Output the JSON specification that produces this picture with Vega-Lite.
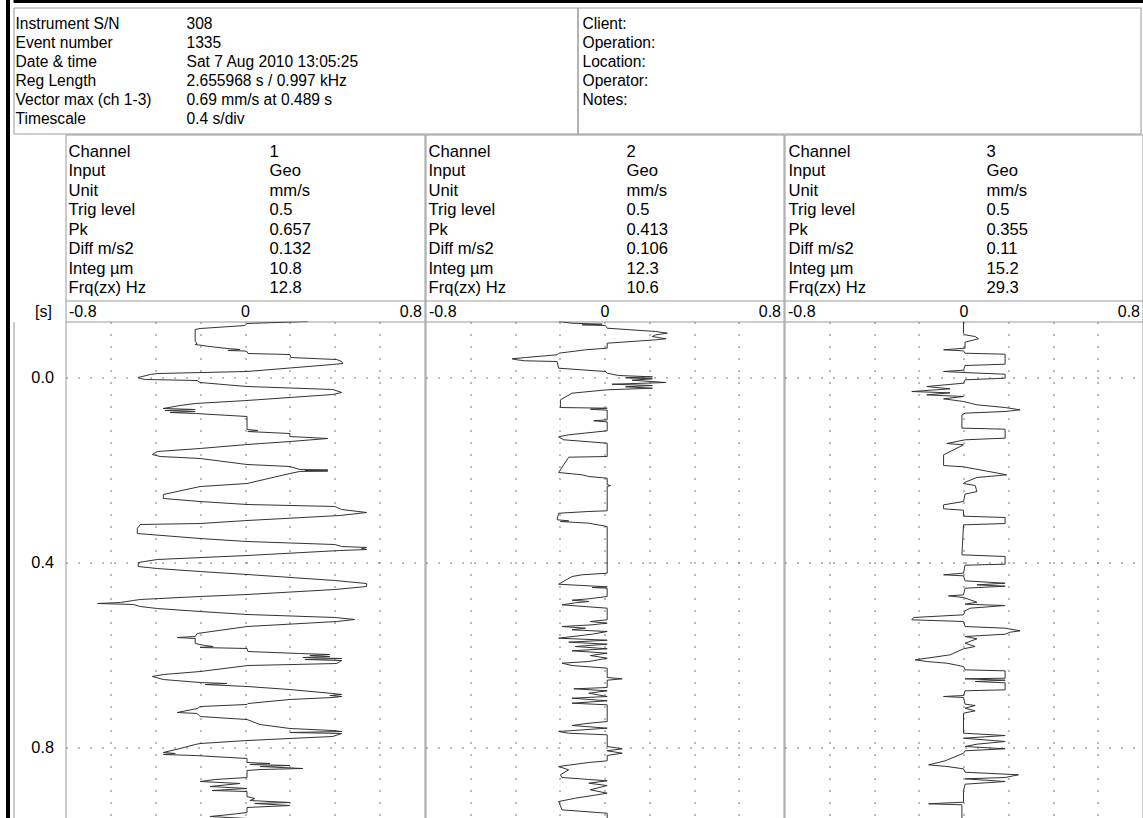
{
"$schema": "https://vega.github.io/schema/vega-lite/v6.json",
"background": "white",
"padding": {"left": 6, "top": 0, "right": 0, "bottom": 0},
"config": {
 "view": {"stroke": "#999", "strokeWidth": 1},
 "axis": {"labelFont": "Liberation Sans", "titleFont": "Liberation Sans", "labelColor": "#000", "titleColor": "#000", "labelFontSize": 16, "titleFontSize": 16, "titleFontWeight": "normal"},
 "text": {"font": "Liberation Sans", "fontSize": 16, "color": "#000"}
},
"datasets": {
 "hdr": [
  {"side":"L","row":0,"col":"k","text":"Instrument S/N"},{"side":"L","row":0,"col":"v","text":"308"},
  {"side":"L","row":1,"col":"k","text":"Event number"},{"side":"L","row":1,"col":"v","text":"1335"},
  {"side":"L","row":2,"col":"k","text":"Date & time"},{"side":"L","row":2,"col":"v","text":"Sat 7 Aug 2010 13:05:25"},
  {"side":"L","row":3,"col":"k","text":"Reg Length"},{"side":"L","row":3,"col":"v","text":"2.655968 s / 0.997 kHz"},
  {"side":"L","row":4,"col":"k","text":"Vector max (ch 1-3)"},{"side":"L","row":4,"col":"v","text":"0.69 mm/s at 0.489 s"},
  {"side":"L","row":5,"col":"k","text":"Timescale"},{"side":"L","row":5,"col":"v","text":"0.4 s/div"},
  {"side":"R","row":0,"col":"k","text":"Client:"},
  {"side":"R","row":1,"col":"k","text":"Operation:"},
  {"side":"R","row":2,"col":"k","text":"Location:"},
  {"side":"R","row":3,"col":"k","text":"Operator:"},
  {"side":"R","row":4,"col":"k","text":"Notes:"}
 ],
 "info": [
  {"ch":1,"row":0,"col":"k","text":"Channel"},{"ch":1,"row":0,"col":"v","text":"1"},
  {"ch":1,"row":1,"col":"k","text":"Input"},{"ch":1,"row":1,"col":"v","text":"Geo"},
  {"ch":1,"row":2,"col":"k","text":"Unit"},{"ch":1,"row":2,"col":"v","text":"mm/s"},
  {"ch":1,"row":3,"col":"k","text":"Trig level"},{"ch":1,"row":3,"col":"v","text":"0.5"},
  {"ch":1,"row":4,"col":"k","text":"Pk"},{"ch":1,"row":4,"col":"v","text":"0.657"},
  {"ch":1,"row":5,"col":"k","text":"Diff m/s2"},{"ch":1,"row":5,"col":"v","text":"0.132"},
  {"ch":1,"row":6,"col":"k","text":"Integ µm"},{"ch":1,"row":6,"col":"v","text":"10.8"},
  {"ch":1,"row":7,"col":"k","text":"Frq(zx) Hz"},{"ch":1,"row":7,"col":"v","text":"12.8"},
  {"ch":2,"row":0,"col":"k","text":"Channel"},{"ch":2,"row":0,"col":"v","text":"2"},
  {"ch":2,"row":1,"col":"k","text":"Input"},{"ch":2,"row":1,"col":"v","text":"Geo"},
  {"ch":2,"row":2,"col":"k","text":"Unit"},{"ch":2,"row":2,"col":"v","text":"mm/s"},
  {"ch":2,"row":3,"col":"k","text":"Trig level"},{"ch":2,"row":3,"col":"v","text":"0.5"},
  {"ch":2,"row":4,"col":"k","text":"Pk"},{"ch":2,"row":4,"col":"v","text":"0.413"},
  {"ch":2,"row":5,"col":"k","text":"Diff m/s2"},{"ch":2,"row":5,"col":"v","text":"0.106"},
  {"ch":2,"row":6,"col":"k","text":"Integ µm"},{"ch":2,"row":6,"col":"v","text":"12.3"},
  {"ch":2,"row":7,"col":"k","text":"Frq(zx) Hz"},{"ch":2,"row":7,"col":"v","text":"10.6"},
  {"ch":3,"row":0,"col":"k","text":"Channel"},{"ch":3,"row":0,"col":"v","text":"3"},
  {"ch":3,"row":1,"col":"k","text":"Input"},{"ch":3,"row":1,"col":"v","text":"Geo"},
  {"ch":3,"row":2,"col":"k","text":"Unit"},{"ch":3,"row":2,"col":"v","text":"mm/s"},
  {"ch":3,"row":3,"col":"k","text":"Trig level"},{"ch":3,"row":3,"col":"v","text":"0.5"},
  {"ch":3,"row":4,"col":"k","text":"Pk"},{"ch":3,"row":4,"col":"v","text":"0.355"},
  {"ch":3,"row":5,"col":"k","text":"Diff m/s2"},{"ch":3,"row":5,"col":"v","text":"0.11"},
  {"ch":3,"row":6,"col":"k","text":"Integ µm"},{"ch":3,"row":6,"col":"v","text":"15.2"},
  {"ch":3,"row":7,"col":"k","text":"Frq(zx) Hz"},{"ch":3,"row":7,"col":"v","text":"29.3"}
 ],
 "ch1": [
  {"t":-0.1211,"v":0.28},{"t":-0.1168,"v":0.009},{"t":-0.1124,"v":0},{"t":-0.1059,"v":-0.2},{"t":-0.1038,"v":-0.222},
  {"t":-0.0778,"v":-0.222},{"t":-0.0735,"v":-0.213},{"t":-0.0714,"v":-0.222},{"t":-0.067,"v":-0.156},{"t":-0.0627,"v":-0.08},
  {"t":-0.0605,"v":-0.022},{"t":-0.0584,"v":-0.076},{"t":-0.0573,"v":0},{"t":-0.0562,"v":0.009},{"t":-0.0519,"v":0.013},
  {"t":-0.0497,"v":0.2},{"t":-0.0432,"v":0.204},{"t":-0.0389,"v":0.409},{"t":-0.0346,"v":0.431},{"t":-0.0303,"v":0.436},
  {"t":-0.0281,"v":0.391},{"t":-0.013,"v":0.009},{"t":-0.0086,"v":-0.391},{"t":-0.0065,"v":-0.422},{"t":0,"v":-0.476},
  {"t":0.0022,"v":-0.467},{"t":0.0043,"v":-0.444},{"t":0.0065,"v":-0.213},{"t":0.0108,"v":-0.2},{"t":0.0195,"v":0.009},
  {"t":0.0259,"v":0.391},{"t":0.0324,"v":0.431},{"t":0.0368,"v":0.391},{"t":0.0497,"v":0.009},{"t":0.0562,"v":-0.222},
  {"t":0.0605,"v":-0.289},{"t":0.067,"v":-0.364},{"t":0.0692,"v":-0.222},{"t":0.0714,"v":-0.356},{"t":0.0735,"v":-0.222},
  {"t":0.0757,"v":-0.333},{"t":0.0778,"v":-0.222},{"t":0.0843,"v":0.009},{"t":0.1124,"v":0.009},{"t":0.1146,"v":0.058},
  {"t":0.1168,"v":0.013},{"t":0.1211,"v":0.2},{"t":0.1276,"v":0.2},{"t":0.1319,"v":0.369},{"t":0.1384,"v":0.2},
  {"t":0.1449,"v":0.009},{"t":0.1535,"v":-0.2},{"t":0.16,"v":-0.391},{"t":0.1665,"v":-0.413},{"t":0.1708,"v":-0.378},
  {"t":0.1751,"v":-0.2},{"t":0.1881,"v":0.009},{"t":0.1924,"v":0.2},{"t":0.1989,"v":0.244},{"t":0.2,"v":0.369},
  {"t":0.2011,"v":0.267},{"t":0.2022,"v":0.369},{"t":0.2032,"v":0.244},{"t":0.2076,"v":0.2},{"t":0.2292,"v":0.009},
  {"t":0.2357,"v":-0.2},{"t":0.253,"v":-0.364},{"t":0.2616,"v":-0.364},{"t":0.2681,"v":-0.2},{"t":0.2746,"v":0.009},
  {"t":0.2789,"v":0.4},{"t":0.2854,"v":0.431},{"t":0.2919,"v":0.542},{"t":0.2984,"v":0.422},{"t":0.3092,"v":0.009},
  {"t":0.3157,"v":-0.2},{"t":0.3178,"v":-0.467},{"t":0.3265,"v":-0.48},{"t":0.3373,"v":-0.48},{"t":0.3481,"v":-0.2},
  {"t":0.3546,"v":0.009},{"t":0.3611,"v":0.4},{"t":0.3654,"v":0.431},{"t":0.3676,"v":0.542},{"t":0.3697,"v":0.52},
  {"t":0.3719,"v":0.542},{"t":0.3741,"v":0.422},{"t":0.3849,"v":0.009},{"t":0.3935,"v":-0.391},{"t":0.4,"v":-0.476},
  {"t":0.4086,"v":-0.476},{"t":0.413,"v":-0.391},{"t":0.4195,"v":-0.2},{"t":0.4259,"v":0.009},{"t":0.4389,"v":0.4},
  {"t":0.4454,"v":0.542},{"t":0.4519,"v":0.542},{"t":0.4584,"v":0.4},{"t":0.4692,"v":0.009},{"t":0.4735,"v":-0.2},
  {"t":0.48,"v":-0.467},{"t":0.4822,"v":-0.498},{"t":0.4865,"v":-0.556},{"t":0.4886,"v":-0.657},{"t":0.4908,"v":-0.498},
  {"t":0.4951,"v":-0.467},{"t":0.4995,"v":-0.391},{"t":0.5059,"v":-0.2},{"t":0.5124,"v":0.009},{"t":0.5189,"v":0.4},
  {"t":0.5232,"v":0.489},{"t":0.5276,"v":0.409},{"t":0.5384,"v":0.009},{"t":0.5535,"v":-0.213},{"t":0.56,"v":-0.222},
  {"t":0.5622,"v":-0.302},{"t":0.5643,"v":-0.222},{"t":0.5751,"v":-0.222},{"t":0.5795,"v":-0.178},{"t":0.5816,"v":-0.142},
  {"t":0.5838,"v":-0.2},{"t":0.5859,"v":0.009},{"t":0.5924,"v":0.013},{"t":0.5968,"v":0.244},{"t":0.5989,"v":0.378},
  {"t":0.6011,"v":0.289},{"t":0.6032,"v":0.378},{"t":0.6054,"v":0.258},{"t":0.6076,"v":0.431},{"t":0.6097,"v":0.267},
  {"t":0.6119,"v":0.431},{"t":0.6184,"v":0.409},{"t":0.6227,"v":0.013},{"t":0.6357,"v":-0.2},{"t":0.6422,"v":-0.364},
  {"t":0.6465,"v":-0.413},{"t":0.653,"v":-0.364},{"t":0.6595,"v":-0.2},{"t":0.6616,"v":-0.08},{"t":0.6638,"v":-0.178},
  {"t":0.6681,"v":0.009},{"t":0.6746,"v":0.2},{"t":0.6832,"v":0.391},{"t":0.6854,"v":0.431},{"t":0.6876,"v":0.378},
  {"t":0.6897,"v":0.431},{"t":0.6919,"v":0.391},{"t":0.6962,"v":0.2},{"t":0.7049,"v":0.013},{"t":0.707,"v":0.009},
  {"t":0.7114,"v":-0.2},{"t":0.7157,"v":-0.213},{"t":0.7243,"v":-0.302},{"t":0.7265,"v":-0.213},{"t":0.733,"v":-0.2},
  {"t":0.7395,"v":0.009},{"t":0.7503,"v":0.067},{"t":0.7589,"v":0.2},{"t":0.7632,"v":0.391},{"t":0.7654,"v":0.431},
  {"t":0.7676,"v":0.2},{"t":0.7697,"v":0.431},{"t":0.7762,"v":0.391},{"t":0.7805,"v":0.2},{"t":0.7849,"v":0.009},
  {"t":0.7914,"v":-0.2},{"t":0.7935,"v":-0.222},{"t":0.8022,"v":-0.289},{"t":0.8108,"v":-0.364},{"t":0.813,"v":-0.311},
  {"t":0.8151,"v":-0.364},{"t":0.8173,"v":-0.222},{"t":0.8238,"v":0.009},{"t":0.8324,"v":0.009},{"t":0.8346,"v":0.111},
  {"t":0.8368,"v":0.022},{"t":0.8389,"v":0.2},{"t":0.8411,"v":0.067},{"t":0.8454,"v":0.258},{"t":0.8476,"v":0.067},
  {"t":0.8497,"v":0.009},{"t":0.8649,"v":0.009},{"t":0.8692,"v":-0.133},{"t":0.8735,"v":-0.2},{"t":0.8778,"v":-0.022},
  {"t":0.8843,"v":-0.156},{"t":0.8886,"v":0.009},{"t":0.893,"v":-0.147},{"t":0.8951,"v":0.009},{"t":0.9059,"v":0.009},
  {"t":0.9103,"v":0.044},{"t":0.9146,"v":0.022},{"t":0.9189,"v":0.2},{"t":0.9211,"v":0.044},{"t":0.9254,"v":0.2},
  {"t":0.9297,"v":0.009},{"t":0.9405,"v":0.009},{"t":0.9449,"v":-0.067},{"t":0.9492,"v":-0.156},{"t":0.9535,"v":0.009}
 ],
 "ch2": [
  {"t":-0.1211,"v":-0.205},{"t":-0.1174,"v":-0.145},{"t":-0.1152,"v":-0.01},{"t":-0.1139,"v":-0.1},{"t":-0.1124,"v":0.004},
  {"t":-0.1066,"v":0.012},{"t":-0.0995,"v":0.229},{"t":-0.0958,"v":0.281},{"t":-0.0923,"v":0.229},{"t":-0.0886,"v":0.214},
  {"t":-0.0837,"v":0.274},{"t":-0.0815,"v":0.229},{"t":-0.0742,"v":0.012},{"t":-0.0634,"v":0.012},{"t":-0.0599,"v":-0.085},
  {"t":-0.0525,"v":-0.205},{"t":-0.0491,"v":-0.212},{"t":-0.0432,"v":-0.354},{"t":-0.0404,"v":-0.413},{"t":-0.0383,"v":-0.392},
  {"t":-0.0361,"v":-0.354},{"t":-0.0346,"v":-0.212},{"t":-0.0201,"v":-0.205},{"t":-0.013,"v":0.004},{"t":-0.0093,"v":0.012},
  {"t":-0.0043,"v":0.064},{"t":-0.0015,"v":0.214},{"t":0.0006,"v":0.094},{"t":0.0028,"v":0.214},{"t":0.0058,"v":0.124},
  {"t":0.0108,"v":0.274},{"t":0.0145,"v":0.034},{"t":0.0173,"v":0.214},{"t":0.0201,"v":0.094},{"t":0.0231,"v":0.214},
  {"t":0.0266,"v":0.012},{"t":0.0339,"v":-0.145},{"t":0.0482,"v":-0.197},{"t":0.0649,"v":-0.197},{"t":0.0664,"v":0.012},
  {"t":0.0685,"v":-0.063},{"t":0.0707,"v":0.012},{"t":0.0915,"v":0.012},{"t":0.0936,"v":-0.048},{"t":0.0958,"v":0.012},
  {"t":0.1152,"v":0.012},{"t":0.1239,"v":-0.16},{"t":0.1282,"v":-0.205},{"t":0.1347,"v":-0.182},{"t":0.1421,"v":0.012},
  {"t":0.1708,"v":0.012},{"t":0.1723,"v":-0.16},{"t":0.2054,"v":-0.205},{"t":0.2104,"v":-0.1},{"t":0.2141,"v":-0.07},
  {"t":0.2177,"v":0.012},{"t":0.232,"v":0.012},{"t":0.2335,"v":0.027},{"t":0.2357,"v":0.012},{"t":0.2882,"v":0.012},
  {"t":0.2897,"v":-0.07},{"t":0.2934,"v":-0.205},{"t":0.3077,"v":-0.212},{"t":0.3098,"v":-0.16},{"t":0.3114,"v":-0.197},
  {"t":0.315,"v":-0.07},{"t":0.3222,"v":0.012},{"t":0.4231,"v":0.012},{"t":0.4266,"v":-0.1},{"t":0.4303,"v":-0.145},
  {"t":0.4469,"v":-0.205},{"t":0.4497,"v":-0.1},{"t":0.4525,"v":0.012},{"t":0.4541,"v":-0.055},{"t":0.4556,"v":0.012},
  {"t":0.4735,"v":0.012},{"t":0.4785,"v":-0.07},{"t":0.4815,"v":-0.145},{"t":0.4843,"v":-0.07},{"t":0.4871,"v":-0.13},
  {"t":0.4915,"v":-0.19},{"t":0.4988,"v":0.012},{"t":0.5239,"v":0.012},{"t":0.5276,"v":-0.063},{"t":0.5312,"v":0.012},
  {"t":0.5347,"v":-0.055},{"t":0.5384,"v":-0.19},{"t":0.542,"v":-0.085},{"t":0.5455,"v":-0.145},{"t":0.5492,"v":0.012},
  {"t":0.555,"v":-0.055},{"t":0.5637,"v":-0.205},{"t":0.568,"v":0.012},{"t":0.5723,"v":-0.16},{"t":0.5766,"v":0.012},
  {"t":0.5816,"v":-0.13},{"t":0.5866,"v":0.012},{"t":0.5909,"v":-0.145},{"t":0.5961,"v":0.012},{"t":0.6011,"v":-0.063},
  {"t":0.6069,"v":0.012},{"t":0.6141,"v":-0.07},{"t":0.6177,"v":-0.19},{"t":0.6227,"v":-0.145},{"t":0.6285,"v":0.012},
  {"t":0.6486,"v":0.012},{"t":0.6515,"v":0.079},{"t":0.6545,"v":0.012},{"t":0.6703,"v":0.012},{"t":0.6731,"v":-0.137},
  {"t":0.6774,"v":0.012},{"t":0.6826,"v":-0.07},{"t":0.6897,"v":0.012},{"t":0.6934,"v":-0.145},{"t":0.699,"v":0.012},
  {"t":0.7042,"v":-0.145},{"t":0.7077,"v":0.012},{"t":0.7438,"v":0.012},{"t":0.7475,"v":-0.07},{"t":0.7524,"v":-0.145},
  {"t":0.7582,"v":0.012},{"t":0.7654,"v":-0.205},{"t":0.7691,"v":-0.16},{"t":0.7726,"v":0.012},{"t":0.7978,"v":0.012},
  {"t":0.8028,"v":0.079},{"t":0.8071,"v":0.012},{"t":0.8123,"v":0.079},{"t":0.8173,"v":0.012},{"t":0.8288,"v":0.012},
  {"t":0.8324,"v":-0.07},{"t":0.8411,"v":-0.205},{"t":0.8482,"v":-0.16},{"t":0.859,"v":-0.197},{"t":0.8649,"v":-0.19},
  {"t":0.872,"v":0.012},{"t":0.8772,"v":-0.07},{"t":0.8822,"v":0.012},{"t":0.8915,"v":-0.063},{"t":0.8988,"v":0.012},
  {"t":0.9096,"v":-0.13},{"t":0.9168,"v":-0.205},{"t":0.9348,"v":-0.19},{"t":0.9421,"v":0.012},{"t":0.9535,"v":0.012}
 ],
 "ch3": [
  {"t":-0.1211,"v":0},{"t":-0.0958,"v":0},{"t":-0.0923,"v":0.007},{"t":-0.0886,"v":0.052},{"t":-0.0837,"v":0.067},
  {"t":-0.0793,"v":0.03},{"t":-0.0764,"v":0.007},{"t":-0.0634,"v":0.007},{"t":-0.0599,"v":-0.089},{"t":-0.0577,"v":0},
  {"t":-0.0525,"v":0.007},{"t":-0.0504,"v":0.186},{"t":-0.0288,"v":0.186},{"t":-0.0259,"v":0.007},{"t":-0.0158,"v":0},
  {"t":-0.013,"v":-0.089},{"t":-0.0108,"v":0},{"t":-0.0071,"v":0.186},{"t":0.0015,"v":0.186},{"t":0.005,"v":0.007},
  {"t":0.0123,"v":0},{"t":0.0195,"v":-0.164},{"t":0.0245,"v":-0.06},{"t":0.0303,"v":-0.231},{"t":0.0332,"v":-0.06},
  {"t":0.0375,"v":-0.164},{"t":0.0411,"v":0},{"t":0.0461,"v":-0.089},{"t":0.0519,"v":0},{"t":0.0591,"v":0.06},
  {"t":0.0649,"v":0.186},{"t":0.0699,"v":0.253},{"t":0.0735,"v":0.186},{"t":0.0771,"v":0.007},{"t":0.0808,"v":-0.007},
  {"t":0.1095,"v":-0.007},{"t":0.1117,"v":0.186},{"t":0.1311,"v":0.186},{"t":0.1347,"v":0.007},{"t":0.1427,"v":-0.074},
  {"t":0.1456,"v":0},{"t":0.1672,"v":-0.089},{"t":0.1903,"v":-0.089},{"t":0.1931,"v":0},{"t":0.2104,"v":0.193},
  {"t":0.2162,"v":0.06},{"t":0.2263,"v":0.007},{"t":0.2292,"v":0},{"t":0.2335,"v":0.052},{"t":0.2465,"v":0.06},
  {"t":0.2523,"v":0.007},{"t":0.2681,"v":0},{"t":0.2753,"v":-0.089},{"t":0.2839,"v":-0.089},{"t":0.2869,"v":0},
  {"t":0.2999,"v":0},{"t":0.3027,"v":0.186},{"t":0.3157,"v":0.186},{"t":0.3185,"v":0},{"t":0.3834,"v":-0.007},
  {"t":0.387,"v":0.186},{"t":0.4036,"v":0.186},{"t":0.4058,"v":0.007},{"t":0.4231,"v":0},{"t":0.4266,"v":-0.089},
  {"t":0.4288,"v":0},{"t":0.4396,"v":0.007},{"t":0.4448,"v":0.186},{"t":0.4483,"v":0.06},{"t":0.4512,"v":0.186},
  {"t":0.4556,"v":0.007},{"t":0.4699,"v":0},{"t":0.4721,"v":-0.067},{"t":0.4757,"v":0},{"t":0.4858,"v":0.06},
  {"t":0.4901,"v":0.007},{"t":0.493,"v":0.186},{"t":0.4988,"v":0.03},{"t":0.5045,"v":0.007},{"t":0.5131,"v":0},
  {"t":0.5189,"v":-0.223},{"t":0.5239,"v":-0.231},{"t":0.5276,"v":0},{"t":0.5384,"v":0.007},{"t":0.542,"v":0.186},
  {"t":0.5477,"v":0.253},{"t":0.5506,"v":0.21},{"t":0.555,"v":0.186},{"t":0.56,"v":0.007},{"t":0.565,"v":0.06},
  {"t":0.5745,"v":0.007},{"t":0.5816,"v":0.052},{"t":0.5866,"v":0},{"t":0.5996,"v":-0.06},{"t":0.6069,"v":-0.164},
  {"t":0.6104,"v":-0.216},{"t":0.6141,"v":-0.164},{"t":0.6177,"v":-0.074},{"t":0.6249,"v":0},{"t":0.6321,"v":0.007},
  {"t":0.6342,"v":0.186},{"t":0.6501,"v":0.186},{"t":0.6515,"v":0.007},{"t":0.6545,"v":0.186},{"t":0.6573,"v":0.052},
  {"t":0.6602,"v":0.186},{"t":0.6753,"v":0.186},{"t":0.6774,"v":0.007},{"t":0.6876,"v":0},{"t":0.6897,"v":-0.089},
  {"t":0.6919,"v":0},{"t":0.7063,"v":0.007},{"t":0.7092,"v":0.052},{"t":0.715,"v":0.007},{"t":0.7207,"v":0.052},
  {"t":0.7258,"v":0},{"t":0.7691,"v":0},{"t":0.7741,"v":0.186},{"t":0.7799,"v":0},{"t":0.787,"v":0.186},
  {"t":0.7928,"v":0.06},{"t":0.7978,"v":0.007},{"t":0.8028,"v":0.186},{"t":0.8071,"v":0.007},{"t":0.8123,"v":0},
  {"t":0.8288,"v":-0.082},{"t":0.8375,"v":-0.156},{"t":0.8411,"v":-0.074},{"t":0.8461,"v":0},{"t":0.8534,"v":0.007},
  {"t":0.859,"v":0.246},{"t":0.8649,"v":0.186},{"t":0.8677,"v":0.007},{"t":0.8735,"v":0.186},{"t":0.8793,"v":0.007},
  {"t":0.8937,"v":0},{"t":0.9182,"v":0},{"t":0.9217,"v":-0.156},{"t":0.9239,"v":-0.007},{"t":0.9535,"v":-0.007}
 ]
},
"bounds": "full",
"spacing": 2.5,
"hconcat": [
 {"width": 4, "height": 818, "data": {"values": []}, "mark": "rect", "encoding": {}, "view": {"fill": "#000", "stroke": null}},
 {"bounds": "full", "spacing": 3.5, "vconcat": [
  {"width": 1130, "height": 3, "data": {"values": []}, "mark": "rect", "encoding": {}, "view": {"fill": "#000", "stroke": null}},
  {"bounds": "full", "spacing": -1, "vconcat": [
   {"bounds": "flush", "spacing": 0, "hconcat": [
    {"width": 564, "height": 126, "data": {"name": "hdr"}, "transform": [{"filter": "datum.side == 'L'"}],
     "mark": {"type": "text", "align": "left", "baseline": "middle", "fontSize": 15.6, "font": "Liberation Sans"},
     "encoding": {
      "x": {"field": "col", "type": "nominal", "scale": {"type": "point", "domain": ["k", "v"], "range": [2, 173], "padding": 0}, "axis": null},
      "y": {"field": "row", "type": "quantitative", "scale": {"domain": [-0.853, 5.744], "reverse": true, "nice": false, "zero": false}, "axis": null},
      "text": {"field": "text"}}},
    {"width": 563, "height": 126, "data": {"name": "hdr"}, "transform": [{"filter": "datum.side == 'R'"}],
     "mark": {"type": "text", "align": "left", "baseline": "middle", "fontSize": 15.6, "font": "Liberation Sans"},
     "encoding": {
      "x": {"field": "col", "type": "nominal", "scale": {"type": "point", "domain": ["k", "v"], "range": [5, 180], "padding": 0}, "axis": null},
      "y": {"field": "row", "type": "quantitative", "scale": {"domain": [-0.853, 5.744], "reverse": true, "nice": false, "zero": false}, "axis": null},
      "text": {"field": "text"}}}
   ]},
   {"bounds": "full", "spacing": -1, "hconcat": [
    {"bounds": "flush", "spacing": 0, "vconcat": [
     {"width": 52, "height": 187, "data": {"values": []}, "mark": "rect", "encoding": {}},
     {"width": 52, "height": 497, "data": {"values": [{}]}, "view": {"stroke": null},
      "mark": {"type": "point", "opacity": 0},
      "encoding": {"y": {"datum": 0, "type": "quantitative",
        "scale": {"domain": [-0.1211, 0.9535], "reverse": true, "nice": false, "zero": false},
        "axis": {"orient": "left", "values": [0, 0.4, 0.8], "format": ".1f", "ticks": false, "grid": false, "domain": true, "domainColor": "#999",
          "labelAlign": "right", "labelBaseline": "middle", "labelPadding": -40, "labelBound": false, "labelOverlap": false, "labelFontSize": 16.3,
          "title": "[s]", "titleAngle": 0, "titleX": 29.5, "titleY": -10, "titleAlign": "center", "titleBaseline": "middle"}}}}
    ]},
    {"bounds": "flush", "spacing": 21, "vconcat": [
     {"width": 359, "height": 166, "data": {"name": "info"}, "transform": [{"filter": "datum.ch == 1"}],
      "mark": {"type": "text", "align": "left", "baseline": "middle", "fontSize": 16.6, "font": "Liberation Sans"},
      "encoding": {
       "x": {"field": "col", "type": "nominal", "scale": {"type": "point", "domain": ["k", "v"], "range": [3, 204], "padding": 0}, "axis": null},
       "y": {"field": "row", "type": "quantitative", "scale": {"domain": [-0.872, 7.641], "reverse": true, "nice": false, "zero": false}, "axis": null},
       "text": {"field": "text"}}},
     {"width": 359, "height": 497, "data": {"name": "ch1"}, "view": {"stroke": null},
      "mark": {"type": "line", "color": "#333", "strokeWidth": 1, "clip": true},
      "encoding": {
       "x": {"field": "v", "type": "quantitative", "scale": {"domain": [-0.8, 0.8], "nice": false, "zero": false},
        "axis": {"orient": "top", "values": [-0.8, -0.6, -0.4, -0.2, 0, 0.2, 0.4, 0.6, 0.8], "title": null, "domain": true, "domainColor": "#999",
         "ticks": true, "tickSize": 21, "tickColor": "#999", "tickOpacity": {"condition": {"test": "abs(datum.value) > 0.79", "value": 1}, "value": 0},
         "grid": true, "gridColor": {"condition": {"test": "abs(datum.value) > 0.79", "value": "#999"}, "value": "#777"},
         "gridDash": {"condition": {"test": "abs(datum.value) > 0.79", "value": []}, "value": [2, 10]},
         "labelExpr": "datum.value < -0.79 ? '-0.8' : (datum.value > 0.79 ? '0.8' : (abs(datum.value) < 0.01 ? '0' : ''))",
         "labelFlush": true, "labelFlushOffset": -3, "labelPadding": -11, "labelBaseline": "middle", "labelOverlap": false, "labelBound": false}},
       "y": {"field": "t", "type": "quantitative", "scale": {"domain": [-0.1211, 0.9535], "reverse": true, "nice": false, "zero": false},
        "axis": {"values": [0, 0.4, 0.8], "title": null, "labels": false, "ticks": false, "domain": false, "grid": true, "gridColor": "#777", "gridDash": [2, 10]}},
       "order": {"field": "t", "type": "quantitative"}}}
    ]},
    {"bounds": "flush", "spacing": 21, "vconcat": [
     {"width": 358, "height": 166, "data": {"name": "info"}, "transform": [{"filter": "datum.ch == 2"}],
      "mark": {"type": "text", "align": "left", "baseline": "middle", "fontSize": 16.6, "font": "Liberation Sans"},
      "encoding": {
       "x": {"field": "col", "type": "nominal", "scale": {"type": "point", "domain": ["k", "v"], "range": [3, 201], "padding": 0}, "axis": null},
       "y": {"field": "row", "type": "quantitative", "scale": {"domain": [-0.872, 7.641], "reverse": true, "nice": false, "zero": false}, "axis": null},
       "text": {"field": "text"}}},
     {"width": 358, "height": 497, "data": {"name": "ch2"}, "view": {"stroke": null},
      "mark": {"type": "line", "color": "#333", "strokeWidth": 1, "clip": true},
      "encoding": {
       "x": {"field": "v", "type": "quantitative", "scale": {"domain": [-0.8, 0.8], "nice": false, "zero": false},
        "axis": {"orient": "top", "values": [-0.8, -0.6, -0.4, -0.2, 0, 0.2, 0.4, 0.6, 0.8], "title": null, "domain": true, "domainColor": "#999",
         "ticks": true, "tickSize": 21, "tickColor": "#999", "tickOpacity": {"condition": {"test": "abs(datum.value) > 0.79", "value": 1}, "value": 0},
         "grid": true, "gridColor": {"condition": {"test": "abs(datum.value) > 0.79", "value": "#999"}, "value": "#777"},
         "gridDash": {"condition": {"test": "abs(datum.value) > 0.79", "value": []}, "value": [2, 10]},
         "labelExpr": "datum.value < -0.79 ? '-0.8' : (datum.value > 0.79 ? '0.8' : (abs(datum.value) < 0.01 ? '0' : ''))",
         "labelFlush": true, "labelFlushOffset": -3, "labelPadding": -11, "labelBaseline": "middle", "labelOverlap": false, "labelBound": false}},
       "y": {"field": "t", "type": "quantitative", "scale": {"domain": [-0.1211, 0.9535], "reverse": true, "nice": false, "zero": false},
        "axis": {"values": [0, 0.4, 0.8], "title": null, "labels": false, "ticks": false, "domain": false, "grid": true, "gridColor": "#777", "gridDash": [2, 10]}},
       "order": {"field": "t", "type": "quantitative"}}}
    ]},
    {"bounds": "flush", "spacing": 21, "vconcat": [
     {"width": 358, "height": 166, "data": {"name": "info"}, "transform": [{"filter": "datum.ch == 3"}],
      "mark": {"type": "text", "align": "left", "baseline": "middle", "fontSize": 16.6, "font": "Liberation Sans"},
      "encoding": {
       "x": {"field": "col", "type": "nominal", "scale": {"type": "point", "domain": ["k", "v"], "range": [4, 202], "padding": 0}, "axis": null},
       "y": {"field": "row", "type": "quantitative", "scale": {"domain": [-0.872, 7.641], "reverse": true, "nice": false, "zero": false}, "axis": null},
       "text": {"field": "text"}}},
     {"width": 358, "height": 497, "data": {"name": "ch3"}, "view": {"stroke": null},
      "mark": {"type": "line", "color": "#333", "strokeWidth": 1, "clip": true},
      "encoding": {
       "x": {"field": "v", "type": "quantitative", "scale": {"domain": [-0.8, 0.8], "nice": false, "zero": false},
        "axis": {"orient": "top", "values": [-0.8, -0.6, -0.4, -0.2, 0, 0.2, 0.4, 0.6, 0.8], "title": null, "domain": true, "domainColor": "#999",
         "ticks": true, "tickSize": 21, "tickColor": "#999", "tickOpacity": {"condition": {"test": "abs(datum.value) > 0.79", "value": 1}, "value": 0},
         "grid": true, "gridColor": {"condition": {"test": "abs(datum.value) > 0.79", "value": "#999"}, "value": "#777"},
         "gridDash": {"condition": {"test": "abs(datum.value) > 0.79", "value": []}, "value": [2, 10]},
         "labelExpr": "datum.value < -0.79 ? '-0.8' : (datum.value > 0.79 ? '0.8' : (abs(datum.value) < 0.01 ? '0' : ''))",
         "labelFlush": true, "labelFlushOffset": -3, "labelPadding": -11, "labelBaseline": "middle", "labelOverlap": false, "labelBound": false}},
       "y": {"field": "t", "type": "quantitative", "scale": {"domain": [-0.1211, 0.9535], "reverse": true, "nice": false, "zero": false},
        "axis": {"values": [0, 0.4, 0.8], "title": null, "labels": false, "ticks": false, "domain": false, "grid": true, "gridColor": "#777", "gridDash": [2, 10]}},
       "order": {"field": "t", "type": "quantitative"}}}
    ]}
   ]}
  ]}
 ]}
]
}
